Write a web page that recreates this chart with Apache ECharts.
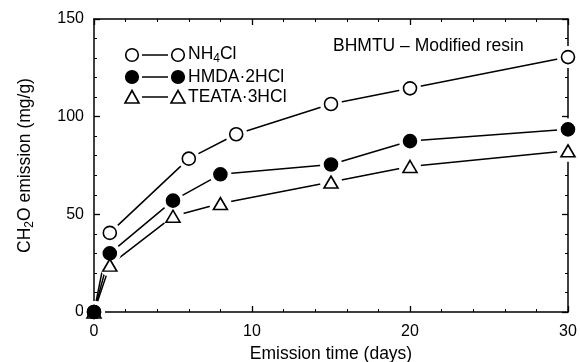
<!DOCTYPE html>
<html>
<head>
<meta charset="utf-8">
<script src="https://cdn.jsdelivr.net/npm/echarts@6/dist/echarts.min.js"></script>
<style>
html,body{margin:0;padding:0;background:#fff;}
#chart{width:580px;height:362px;}
</style>
</head>
<body>
<div id="chart"></div>
<script>
// ---- data ----
const daysNH4 = [0, 1, 6, 9, 15, 20, 30];
const valsNH4 = [0, 40.5, 78.5, 91, 106.5, 114.5, 130.5];
const daysHMDA = [0, 1, 5, 8, 15, 20, 30];
const valsHMDA = [0, 30, 57, 70.5, 75.5, 87.5, 93.5];
const daysTEATA = [0, 1, 5, 8, 15, 20, 30];
const valsTEATA = [0, 24, 49, 55.5, 66.5, 74.5, 82.5];
const seriesNames = ['NH4Cl', 'HMDA·2HCl', 'TEATA·3HCl'];
const xTicks = [0, 10, 20, 30];
const yTicks = [0, 50, 100, 150];
const annotation = 'BHMTU – Modified resin';

const FONT = "'Liberation Sans', Arial, Helvetica, sans-serif";
const BIG = 17.5;
const TICK = 16;
const pairs = (xs, ys) => xs.map((x, i) => [x, ys[i]]);

const sets = [
  { name: seriesNames[0], data: pairs(daysNH4, valsNH4), symbol: 'circle', fill: '#fff' },
  { name: seriesNames[1], data: pairs(daysHMDA, valsHMDA), symbol: 'circle', fill: '#000' },
  { name: seriesNames[2], data: pairs(daysTEATA, valsTEATA), symbol: 'triangle', fill: '#fff' }
];
const markerOrder = [0, 2, 1]; // filled circles drawn on top

const series = [];
sets.forEach(s => {
  series.push({
    type: 'line', name: s.name, data: s.data, showSymbol: false, silent: true,
    lineStyle: { color: '#000', width: 1.5, opacity: 1 }, z: 2, animation: false
  });
});
sets.forEach(s => {
  series.push({
    type: 'scatter', data: s.data, symbol: 'circle', symbolSize: 22, silent: true,
    itemStyle: { color: '#fff', borderWidth: 0, opacity: 1 }, z: 3, animation: false
  });
});
markerOrder.forEach(k => {
  const s = sets[k];
  series.push({
    type: 'scatter', name: s.name, data: s.data, symbol: s.symbol,
    symbolSize: s.symbol === 'triangle' ? [14, 12] : 13, silent: true,
    itemStyle: { color: s.fill, borderColor: '#000', borderWidth: 1.6, opacity: 1 }, z: 4, animation: false
  });
});

const axisCommon = {
  axisLine: { show: true, onZero: false, lineStyle: { color: '#000', width: 1.5 } },
  axisTick: { show: true, inside: true, length: 6, lineStyle: { color: '#000', width: 1.3 } },
  minorTick: { show: true, splitNumber: 5, length: 3, lineStyle: { color: '#000', width: 1 } },
  splitLine: { show: false },
  minorSplitLine: { show: false }
};

const chart = echarts.init(document.getElementById('chart'), null, { renderer: 'canvas' });

// legend rows drawn as graphics
const legendRows = [55, 77, 97];
const lx1 = 132, lx2 = 178, textX = 188;
const legendGraphics = [];
sets.forEach((s, i) => {
  const y = legendRows[i];
  legendGraphics.push({ type: 'line', shape: { x1: lx1 + 10, y1: y, x2: lx2 - 10, y2: y }, style: { stroke: '#000', lineWidth: 1.5 } });
  [lx1, lx2].forEach(cx => {
    if (s.symbol === 'circle') {
      legendGraphics.push({ type: 'circle', shape: { cx: cx, cy: y, r: 6.3 }, style: { fill: s.fill, stroke: '#000', lineWidth: 1.6 } });
    } else {
      legendGraphics.push({ type: 'polygon', shape: { points: [[cx, y - 6.5], [cx + 7, y + 6], [cx - 7, y + 6]] }, style: { fill: '#fff', stroke: '#000', lineWidth: 1.6 } });
    }
  });
});
legendGraphics.push({
  type: 'text', left: textX, top: legendRows[0] - 10,
  style: { text: '{a|NH}{s|4}{a|Cl}', rich: { a: { fontFamily: FONT, fontSize: BIG, fill: '#000' }, s: { fontFamily: FONT, fontSize: 12, fill: '#000', padding: [9, 0, 0, 0] } } }
});
legendGraphics.push({ type: 'text', left: textX, top: legendRows[1] - 9, style: { text: seriesNames[1], font: BIG + 'px ' + FONT, fill: '#000' } });
legendGraphics.push({ type: 'text', left: textX, top: legendRows[2] - 9, style: { text: seriesNames[2], font: BIG + 'px ' + FONT, fill: '#000' } });
legendGraphics.push({ type: 'text', left: 333, top: 37, style: { text: annotation, font: BIG + 'px ' + FONT, fill: '#000' } });

chart.setOption({
  animation: false,
  backgroundColor: '#fff',
  grid: { left: 94, right: 12, top: 19, bottom: 50, containLabel: false, outerBoundsMode: 'none' },
  xAxis: [
    Object.assign({}, axisCommon, {
      type: 'value', position: 'bottom', min: xTicks[0], max: xTicks[xTicks.length - 1], interval: 10,
      name: 'Emission time (days)', nameLocation: 'middle', nameGap: 32,
      nameTextStyle: { fontFamily: FONT, fontSize: BIG, color: '#000' },
      axisLabel: { margin: 12, fontFamily: FONT, fontSize: TICK, color: '#000' }
    }),
    Object.assign({}, axisCommon, {
      type: 'value', position: 'top', min: xTicks[0], max: xTicks[xTicks.length - 1], interval: 10,
      axisLabel: { show: false }
    })
  ],
  yAxis: [
    Object.assign({}, axisCommon, {
      type: 'value', position: 'left', min: yTicks[0], max: yTicks[yTicks.length - 1], interval: 50,
      name: '{a|CH}{s|2}{a|O emission (mg/g)}', nameLocation: 'middle', nameGap: 58, nameRotate: 90,
      nameTextStyle: {
        rich: {
          a: { fontFamily: FONT, fontSize: BIG, color: '#000' },
          s: { fontFamily: FONT, fontSize: 12, color: '#000', padding: [9, 0, 0, 0] }
        }
      },
      axisLabel: { margin: 10, fontFamily: FONT, fontSize: TICK, color: '#000' }
    }),
    Object.assign({}, axisCommon, {
      type: 'value', position: 'right', min: yTicks[0], max: yTicks[yTicks.length - 1], interval: 50,
      axisLabel: { show: false }
    })
  ],
  series: series,
  graphic: legendGraphics
});
</script>
</body>
</html>
